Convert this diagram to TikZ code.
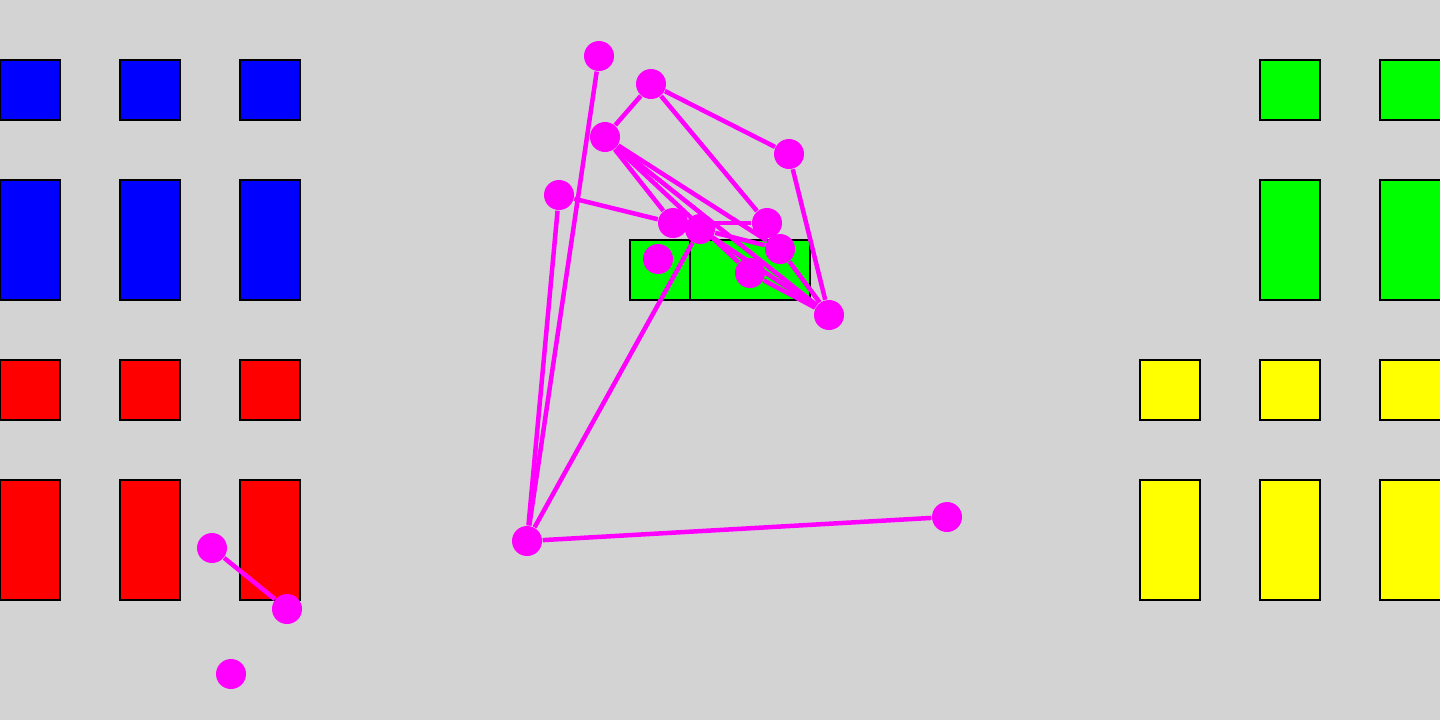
\documentclass[tikz,border=0pt]{standalone}
\definecolor{bgGray}{RGB}{211,211,211}
\definecolor{dotMagenta}{RGB}{255,0,255}
\definecolor{boxBlue}{RGB}{0,0,255}
\definecolor{boxRed}{RGB}{255,0,0}
\definecolor{boxGreen}{RGB}{0,255,0}
\definecolor{boxYellow}{RGB}{255,255,0}
\begin{document}
\begin{tikzpicture}[x=0.1mm, y=-0.1mm,
    box/.style={draw=black, line width=0.25mm},
    dot/.style={circle, fill=dotMagenta, inner sep=0pt, minimum size=3mm},
    link/.style={draw=dotMagenta, line width=0.45mm}]
        % Background
        \useasboundingbox (0,0) rectangle (1440,720);
        \clip (0,0) rectangle (1440,720);
        \fill[bgGray] (0,0) rectangle (1440,720);
        % Left blocks (top to bottom)
        \filldraw[box, fill=boxBlue] (0,60) rectangle (60,120);
        \filldraw[box, fill=boxBlue] (120,60) rectangle (180,120);
        \filldraw[box, fill=boxBlue] (240,60) rectangle (300,120);
        \filldraw[box, fill=boxBlue] (0,180) rectangle (60,300);
        \filldraw[box, fill=boxBlue] (120,180) rectangle (180,300);
        \filldraw[box, fill=boxBlue] (240,180) rectangle (300,300);
        \filldraw[box, fill=boxRed] (0,360) rectangle (60,420);
        \filldraw[box, fill=boxRed] (120,360) rectangle (180,420);
        \filldraw[box, fill=boxRed] (240,360) rectangle (300,420);
        \filldraw[box, fill=boxRed] (0,480) rectangle (60,600);
        \filldraw[box, fill=boxRed] (120,480) rectangle (180,600);
        \filldraw[box, fill=boxRed] (240,480) rectangle (300,600);
        % Right blocks (top to bottom)
        \filldraw[box, fill=boxGreen] (1260,60) rectangle (1320,120);
        \filldraw[box, fill=boxGreen] (1380,60) rectangle (1445,120);
        \filldraw[box, fill=boxGreen] (1260,180) rectangle (1320,300);
        \filldraw[box, fill=boxGreen] (1380,180) rectangle (1445,300);
        \filldraw[box, fill=boxYellow] (1140,360) rectangle (1200,420);
        \filldraw[box, fill=boxYellow] (1260,360) rectangle (1320,420);
        \filldraw[box, fill=boxYellow] (1380,360) rectangle (1445,420);
        \filldraw[box, fill=boxYellow] (1140,480) rectangle (1200,600);
        \filldraw[box, fill=boxYellow] (1260,480) rectangle (1320,600);
        \filldraw[box, fill=boxYellow] (1380,480) rectangle (1445,600);
        % Middle blocks
        \filldraw[box, fill=boxGreen] (630,240) rectangle (690,300);
        \filldraw[box, fill=boxGreen] (690,240) rectangle (810,300);
        % Nodes
        \node (a) at (599,56) [dot] {};
        \node (b) at (651,84) [dot] {};
        \node (c) at (605,137) [dot] {};
        \node (d) at (789,154) [dot] {};
        \node (e) at (559,195) [dot] {};
        \node (f) at (673,223) [dot] {};
        \node (g) at (700,229) [dot] {};
        \node (h) at (767,223) [dot] {};
        \node (i) at (780,249) [dot] {};
        \node (j) at (750,273) [dot] {};
        \node (k) at (658,259) [dot] {};
        \node (l) at (829,315) [dot] {};
        \node (m) at (527,541) [dot] {};
        \node (n) at (947,517) [dot] {};
        \node (o) at (212,548) [dot] {};
        \node (p) at (287,609) [dot] {};
        \node (q) at (231,674) [dot] {};
        % Edges
        \draw[link] (a) -- (m);
        \draw[link] (e) -- (m);
        \draw[link] (m) -- (n);
        \draw[link] (m) -- (g);
        \draw[link] (o) -- (p);
        \draw[link] (b) -- (c);
        \draw[link] (b) -- (d);
        \draw[link] (b) -- (h);
        \draw[link] (d) -- (l);
        \draw[link] (c) -- (f);
        \draw[link] (c) -- (j);
        \draw[link] (c) -- (l);
        \draw[link] (c) -- (i);
        \draw[link] (e) -- (f);
        \draw[link] (f) -- (h);
        \draw[link] (g) -- (i);
        \draw[link] (g) -- (l);
        \draw[link] (j) -- (l);
        \draw[link] (i) -- (l);
\end{tikzpicture}
\end{document}
